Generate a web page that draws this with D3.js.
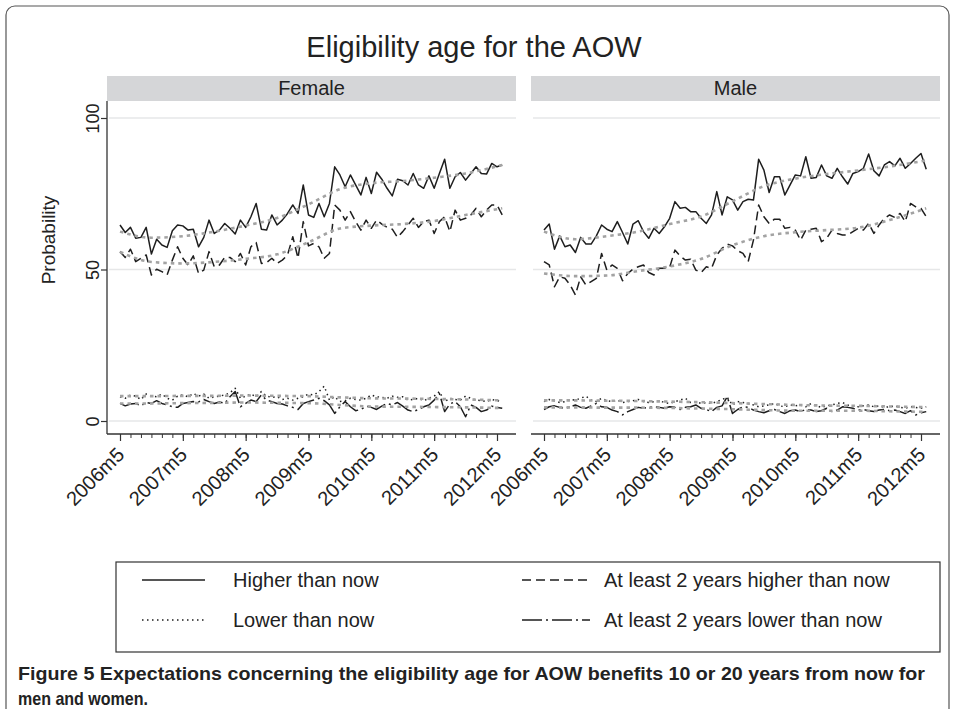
<!DOCTYPE html>
<html>
<head>
<meta charset="utf-8">
<script src="https://cdn.jsdelivr.net/npm/d3@7/dist/d3.min.js"></script>
<style>
  body { margin: 0; background: #fff; }
  text { font-family: "Liberation Sans", Arial, Helvetica, sans-serif; fill: #222; }
</style>
</head>
<body>
<div id="chart"></div>
<script>
'use strict';

// monthly survey waves, index 0 = 2006m5
var tickMonths = [0, 12, 24, 36, 48, 60, 72];
var tickLabels = ['2006m5', '2007m5', '2008m5', '2009m5', '2010m5', '2011m5', '2012m5'];
var yTicks = [0, 50, 100];
var panelNames = ['Female', 'Male'];

// Female
var femHigher = [64.7,62.2,63.9,60.3,60.6,63.9,55.1,60.0,58.1,57.3,62.8,64.7,64.4,63.0,63.3,57.5,60.6,66.3,61.9,63.0,65.2,63.6,61.7,66.3,63.9,67.4,71.8,63.3,63.0,68.0,64.7,66.3,68.5,71.3,68.5,77.9,68.0,67.2,71.8,67.4,71.8,83.9,81.2,77.3,81.2,77.9,74.6,80.4,75.1,82.1,79.8,76.8,74.3,79.8,79.3,77.9,81.7,77.9,76.8,80.9,76.8,81.7,86.4,76.8,80.6,82.0,79.5,81.7,83.9,81.7,81.5,85.0,83.9,84.5];
var femHigher2 = [55.9,54.0,56.7,52.6,53.7,54.8,48.2,50.1,49.3,48.2,53.1,57.5,53.7,51.5,54.5,48.7,49.8,55.9,50.9,51.5,54.0,54.0,52.6,55.3,51.5,57.5,58.9,52.0,52.3,53.7,52.0,53.1,54.8,60.8,53.7,65.8,57.8,58.6,57.5,53.7,55.3,71.3,69.6,66.3,69.1,65.8,63.0,66.3,63.6,66.3,65.0,63.9,63.3,60.6,62.5,64.7,66.9,63.9,65.8,66.3,61.9,65.8,67.4,62.5,69.6,66.3,66.9,68.0,70.2,67.4,69.6,71.3,71.3,68.0];
var femLower = [8.0,7.5,8.6,8.2,7.1,8.9,8.2,8.0,8.9,7.5,6.9,8.2,8.6,8.0,9.1,8.2,8.9,7.5,8.0,8.2,8.6,9.3,10.8,7.5,8.2,8.9,8.0,9.7,8.2,7.8,8.0,7.1,7.5,6.9,7.5,8.0,8.9,8.6,9.7,11.5,6.9,8.0,6.4,6.7,7.5,7.1,6.9,7.5,8.6,8.0,7.8,7.5,8.2,7.8,8.0,6.9,7.1,7.5,6.7,7.5,8.2,9.7,6.4,7.5,7.1,6.9,8.2,7.5,6.9,6.7,6.4,7.1,6.7,6.4];
var femLower2 = [5.8,5.0,5.6,5.8,5.0,6.1,5.8,6.7,5.8,5.3,4.7,4.5,5.8,6.1,6.4,6.3,7.1,6.4,5.8,6.3,5.8,8.0,9.7,4.7,5.8,6.9,6.4,8.6,6.9,6.4,5.8,5.6,5.0,4.5,3.8,5.8,6.4,6.9,7.5,6.7,5.3,2.5,4.7,6.4,4.7,3.4,3.8,4.9,4.5,3.8,4.9,5.8,5.3,6.1,4.9,3.6,3.1,3.8,4.7,5.3,6.9,9.1,3.1,5.6,6.4,4.7,1.4,5.3,4.5,3.1,3.6,4.9,4.5,4.2];

// Male
var maleHigher = [63.0,65.0,56.7,61.1,57.5,58.1,55.6,60.6,58.4,58.4,61.1,64.7,63.3,62.5,65.8,62.2,58.4,65.0,66.1,62.5,60.3,63.6,61.9,64.1,66.9,72.4,70.2,70.5,69.1,69.1,66.9,65.2,68.0,75.7,68.0,74.0,73.0,69.6,72.4,73.2,72.9,86.4,82.8,75.4,80.6,80.6,74.6,77.9,81.2,80.9,87.2,80.1,80.4,84.5,80.9,80.1,83.4,80.6,78.2,81.7,82.3,83.4,88.1,82.6,80.9,84.5,85.6,84.2,86.7,83.4,85.0,86.7,88.3,83.1];
var maleHigher2 = [52.6,51.5,44.3,47.6,47.1,44.9,41.6,47.6,44.9,46.0,47.1,55.3,49.8,51.5,50.4,46.3,48.7,50.1,50.9,51.5,49.0,48.2,50.4,50.4,50.7,56.4,54.5,53.1,53.4,49.8,49.0,50.9,50.4,54.8,57.0,58.4,57.8,56.2,55.3,52.6,59.7,71.3,67.4,65.2,66.6,66.6,63.6,63.9,63.0,59.7,63.0,63.3,63.6,59.2,60.3,63.0,61.9,61.4,61.4,62.5,63.6,63.0,65.2,61.9,64.7,66.9,68.0,67.2,68.5,65.8,71.8,70.7,70.2,67.4];
var maleLower = [6.4,7.1,6.7,6.1,6.4,7.1,6.9,7.5,8.2,6.9,6.4,7.5,6.7,6.4,6.9,6.1,6.4,6.7,7.1,6.4,6.1,6.4,6.7,6.1,5.8,6.4,6.9,7.5,6.1,6.4,5.8,6.1,5.8,6.4,7.1,7.8,5.3,6.4,6.1,5.8,5.3,4.7,5.0,5.3,5.8,5.0,4.7,5.3,5.0,5.3,4.7,5.8,5.0,4.5,5.0,5.3,5.8,6.1,5.3,5.0,4.7,5.0,5.3,4.7,5.0,4.5,4.7,5.0,4.5,4.2,4.7,4.5,4.2,4.7];
var maleLower2 = [3.8,4.7,5.0,4.5,4.2,4.7,5.3,4.5,4.2,5.0,5.8,4.7,4.5,3.6,3.1,2.0,3.1,3.8,4.5,4.2,4.5,4.7,4.5,4.2,4.7,4.5,3.8,4.5,4.7,5.3,4.2,3.8,3.1,4.5,5.0,8.0,2.5,3.8,4.7,4.5,3.6,3.1,2.7,3.4,3.8,3.1,2.5,3.4,3.6,3.1,3.8,3.6,3.1,3.4,4.2,3.1,3.6,4.7,4.5,4.2,3.6,3.8,3.4,3.1,3.6,3.8,3.4,3.6,3.1,2.5,3.4,2.0,2.7,3.1];

// smoothed trends (gray dotted), read at these months
var smoothMonths = [0, 6, 12, 18, 24, 30, 36, 42, 48, 54, 60, 66, 73];
var femHigherFit  = [62.5,60.5,61.0,62.5,64.5,67.0,71.5,76.5,78.5,79.2,80.3,81.7,84.5];
var femHigher2Fit = [55.8,52.5,52.0,52.5,53.5,55.0,59.0,63.5,64.5,65.0,66.0,68.0,70.2];
var femLowerFit   = [8.2,8.2,8.3,8.3,8.4,8.3,8.2,7.8,7.5,7.4,7.3,7.1,6.8];
var femLower2Fit  = [5.8,5.8,5.9,6.0,6.1,6.0,5.9,5.3,4.8,4.7,4.6,4.5,4.3];
var maleHigherFit  = [62.5,60.0,61.0,62.5,65.0,67.5,72.5,77.5,80.0,81.5,82.7,84.0,86.0];
var maleHigher2Fit = [48.7,47.8,48.0,49.5,51.0,53.5,58.0,61.0,62.3,63.0,63.8,66.3,70.2];
var maleLowerFit   = [6.8,6.8,6.7,6.6,6.4,6.2,5.9,5.6,5.3,5.1,5.0,4.8,4.6];
var maleLower2Fit  = [4.5,4.5,4.4,4.4,4.3,4.1,3.9,3.6,3.4,3.4,3.4,3.2,3.0];

var legendLabels = ['Higher than now', 'At least 2 years higher than now', 'Lower than now', 'At least 2 years lower than now'];
var dashes = ['none', '9,5', '1.5,3.5', '20,4,2,4'];

var panels = [
  { name: panelNames[0], left: 107, series: [femHigher, femHigher2, femLower, femLower2],
    fits: [femHigherFit, femHigher2Fit, femLowerFit, femLower2Fit] },
  { name: panelNames[1], left: 531, series: [maleHigher, maleHigher2, maleLower, maleLower2],
    fits: [maleHigherFit, maleHigher2Fit, maleLowerFit, maleLower2Fit] }
];

var W = 955, H = 709, panelW = 409;
var stripTop = 76, stripH = 25, plotTop = 101, axisY = 434;

var svg = d3.select('#chart').append('svg')
  .attr('width', W).attr('height', H);

// outer frame
svg.append('rect')
  .attr('x', 6).attr('y', 6).attr('width', W - 12).attr('height', H + 20)
  .attr('rx', 9).attr('fill', 'none').attr('stroke', '#555').attr('stroke-width', 1.2);

svg.append('text')
  .attr('x', 474).attr('y', 57)
  .attr('text-anchor', 'middle')
  .style('font-size', '29px')
  .text('Eligibility age for the AOW');

var y = d3.scaleLinear().domain([0, 100]).range([421, 118]);

panels.forEach(function(p, pi) {
  var g = svg.append('g');
  var x = d3.scaleLinear().domain([0, 72]).range([p.left + 13, p.left + 390]);

  // strip
  g.append('rect')
    .attr('x', p.left).attr('y', stripTop).attr('width', panelW).attr('height', stripH)
    .attr('fill', '#d5d6d8');
  g.append('text')
    .attr('x', p.left + panelW / 2).attr('y', stripTop + 19)
    .attr('text-anchor', 'middle')
    .style('font-size', '20px')
    .text(p.name);

  // grid
  g.selectAll('.grid')
    .data(yTicks)
    .enter()
    .append('line')
      .attr('x1', p.left + 2).attr('x2', p.left + panelW)
      .attr('y1', function(d){ return y(d); })
      .attr('y2', function(d){ return y(d); })
      .attr('stroke', '#e6e7e8').attr('stroke-width', 1.6);

  // x axis: minor then major ticks
  var minor = d3.axisBottom(x).tickValues(d3.range(0, 73, 2)).tickSize(4).tickFormat('');
  var gx = g.append('g').attr('transform', 'translate(0,' + axisY + ')').call(minor);
  gx.select('.domain').attr('d', 'M' + p.left + ',0H' + (p.left + panelW)).attr('stroke', '#333').attr('stroke-width', 1.3);
  gx.selectAll('.tick line').attr('stroke', '#333').attr('stroke-width', 1);

  var major = d3.axisBottom(x).tickValues(tickMonths).tickSize(7)
    .tickFormat(function(d, i){ return tickLabels[i]; });
  var gx2 = g.append('g').attr('transform', 'translate(0,' + axisY + ')').call(major);
  gx2.select('.domain').remove();
  gx2.selectAll('.tick line').attr('stroke', '#333').attr('stroke-width', 1.2);
  gx2.selectAll('.tick text')
    .attr('y', 0).attr('dy', 0)
    .attr('text-anchor', 'end')
    .attr('transform', 'translate(5,22) rotate(-45)')
    .style('font-size', '20px')
    .style('font-family', '"Liberation Sans", Arial, sans-serif')
    .attr('fill', '#222');

  if (pi === 0) {
    var yAxis = d3.axisLeft(y).tickValues(yTicks).tickSize(6);
    var gy = g.append('g').attr('transform', 'translate(' + p.left + ',0)').call(yAxis);
    gy.select('.domain').attr('d', 'M0,' + plotTop + 'V' + axisY).attr('stroke', '#333').attr('stroke-width', 1.3);
    gy.selectAll('.tick line').attr('stroke', '#333').attr('stroke-width', 1.2);
    gy.selectAll('.tick text')
      .attr('x', 0).attr('dy', 0)
      .attr('text-anchor', 'middle')
      .attr('transform', 'translate(-8,0) rotate(-90)')
      .style('font-size', '18px')
      .style('font-family', '"Liberation Sans", Arial, sans-serif')
      .attr('fill', '#222');
  }

  var line = d3.line()
    .x(function(d, i){ return x(i); })
    .y(function(d){ return y(d); });

  g.selectAll('.series')
    .data(p.series)
    .enter()
    .append('path')
      .attr('d', function(d){ return line(d); })
      .attr('fill', 'none')
      .attr('stroke', '#1e1e1e')
      .attr('stroke-width', 1.5)
      .attr('stroke-linejoin', 'round')
      .attr('stroke-dasharray', function(d, i){ return dashes[i]; });

  var fitLine = d3.line()
    .x(function(d, i){ return x(smoothMonths[i]); })
    .y(function(d){ return y(d); })
    .curve(d3.curveMonotoneX);

  g.selectAll('.fits')
    .data(p.fits)
    .enter()
    .append('path')
      .attr('d', function(d){ return fitLine(d); })
      .attr('fill', 'none')
      .attr('stroke', '#a3a3a3')
      .attr('stroke-width', 2.6)
      .attr('stroke-dasharray', '3.5,4');
});

svg.append('text')
  .attr('transform', 'translate(55,240) rotate(-90)')
  .attr('text-anchor', 'middle')
  .style('font-size', '19px')
  .text('Probability');

// legend
var lg = svg.append('g');
lg.append('rect')
  .attr('x', 116).attr('y', 562).attr('width', 824).attr('height', 90)
  .attr('fill', '#fff').attr('stroke', '#333').attr('stroke-width', 1.2);

var legPos = [
  { x: 142, y: 580 }, { x: 522, y: 580 },
  { x: 142, y: 620 }, { x: 522, y: 620 }
];
var legItems = lg.selectAll('.leg')
  .data(legendLabels)
  .enter()
  .append('g')
    .attr('transform', function(d, i){ return 'translate(' + legPos[i].x + ',' + legPos[i].y + ')'; });
legItems.append('line')
  .attr('x1', 0).attr('x2', function(d, i){ return i % 2 ? 68 : 63; })
  .attr('y1', 0).attr('y2', 0)
  .attr('stroke', '#1e1e1e').attr('stroke-width', 1.5)
  .attr('stroke-dasharray', function(d, i){ return dashes[i]; });
legItems.append('text')
  .attr('x', function(d, i){ return i % 2 ? 82 : 91; })
  .attr('y', 7)
  .style('font-size', '20px')
  .text(function(d){ return d; });

// caption
svg.append('text')
  .attr('x', 18).attr('y', 680)
  .attr('textLength', 907).attr('lengthAdjust', 'spacingAndGlyphs')
  .style('font-size', '18.5px').style('font-weight', 'bold').attr('fill', '#231f20')
  .text('Figure 5 Expectations concerning the eligibility age for AOW benefits 10 or 20 years from now for');
svg.append('text')
  .attr('x', 18).attr('y', 705)
  .attr('textLength', 130).attr('lengthAdjust', 'spacingAndGlyphs')
  .style('font-size', '18.5px').style('font-weight', 'bold').attr('fill', '#231f20')
  .text('men and women.');
</script>
</body>
</html>
